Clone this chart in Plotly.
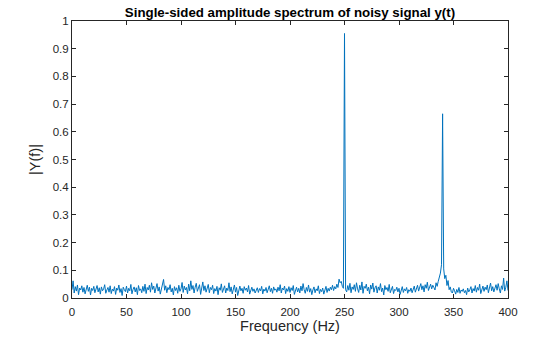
import plotly.graph_objects as go

freq = list(range(401))

amp = [
    0.030,0.062,0.018,0.041,0.025,0.047,0.012,0.036,0.029,0.044,
    0.021,0.038,0.015,0.033,0.046,0.024,0.039,0.011,0.035,0.027,
    0.042,0.019,0.031,0.045,0.022,0.037,0.014,0.040,0.026,0.033,
    0.048,0.017,0.029,0.038,0.021,0.044,0.016,0.032,0.025,0.041,
    0.013,0.036,0.028,0.047,0.020,0.034,0.009,0.039,0.030,0.023,
    0.043,0.018,0.035,0.026,0.049,0.015,0.031,0.040,0.022,0.037,
    0.012,0.045,0.027,0.033,0.019,0.042,0.024,0.050,0.016,0.038,
    0.029,0.046,0.021,0.055,0.031,0.043,0.018,0.036,0.052,0.025,
    0.040,0.014,0.034,0.047,0.067,0.028,0.044,0.019,0.038,0.030,
    0.048,0.022,0.035,0.011,0.041,0.027,0.037,0.017,0.046,0.024,
    0.033,0.056,0.020,0.043,0.029,0.038,0.015,0.050,0.026,0.062,
    0.031,0.045,0.018,0.039,0.053,0.024,0.036,0.048,0.013,0.041,
    0.058,0.027,0.044,0.021,0.035,0.049,0.019,0.038,0.030,0.046,
    0.016,0.034,0.025,0.042,0.012,0.037,0.028,0.051,0.020,0.033,
    0.044,0.018,0.036,0.027,0.055,0.023,0.040,0.015,0.032,0.047,
    0.021,0.038,0.009,0.030,0.043,0.026,0.035,0.017,0.041,0.028,
    0.036,0.022,0.045,0.014,0.031,0.039,0.024,0.033,0.018,0.029,
    0.037,0.020,0.034,0.026,0.042,0.015,0.032,0.025,0.038,0.019,
    0.030,0.044,0.023,0.035,0.017,0.040,0.028,0.033,0.021,0.039,
    0.026,0.048,0.018,0.036,0.029,0.043,0.016,0.034,0.024,0.041,
    0.020,0.037,0.027,0.045,0.013,0.031,0.039,0.022,0.035,0.018,
    0.043,0.026,0.052,0.030,0.017,0.038,0.024,0.047,0.021,0.034,
    0.012,0.029,0.040,0.019,0.033,0.026,0.044,0.016,0.031,0.023,
    0.036,0.014,0.028,0.042,0.020,0.035,0.025,0.039,0.030,0.046,
    0.027,0.041,0.033,0.050,0.038,0.068,0.055,0.060,0.042,0.035,
    0.955,0.030,0.022,0.045,0.028,0.053,0.019,0.040,0.031,0.048,
    0.024,0.055,0.033,0.020,0.046,0.029,0.058,0.017,0.042,0.035,
    0.050,0.026,0.039,0.015,0.047,0.032,0.054,0.021,0.037,0.044,
    0.018,0.040,0.028,0.052,0.023,0.036,0.011,0.045,0.030,0.038,
    0.024,0.049,0.019,0.034,0.042,0.016,0.031,0.027,0.039,0.022,
    0.035,0.013,0.029,0.041,0.020,0.033,0.026,0.038,0.017,0.030,
    0.024,0.036,0.019,0.028,0.043,0.021,0.032,0.046,0.025,0.037,
    0.052,0.030,0.044,0.022,0.048,0.035,0.057,0.027,0.041,0.050,
    0.033,0.046,0.038,0.029,0.055,0.042,0.060,0.071,0.090,0.120,
    0.665,0.105,0.070,0.082,0.045,0.063,0.030,0.040,0.022,0.018,
    0.035,0.026,0.014,0.031,0.020,0.038,0.017,0.029,0.024,0.033,
    0.019,0.027,0.012,0.036,0.022,0.030,0.041,0.018,0.034,0.025,
    0.045,0.021,0.038,0.028,0.050,0.016,0.033,0.043,0.024,0.039,
    0.030,0.047,0.019,0.036,0.054,0.026,0.041,0.022,0.035,0.048,
    0.028,0.052,0.033,0.018,0.044,0.031,0.072,0.025,0.039,0.062,
    0.027,
]

x_ticks = [0, 50, 100, 150, 200, 250, 300, 350, 400]
y_ticks = [0, 0.1, 0.2, 0.3, 0.4, 0.5, 0.6, 0.7, 0.8, 0.9, 1]
y_tick_labels = ["0", "0.1", "0.2", "0.3", "0.4", "0.5", "0.6", "0.7", "0.8", "0.9", "1"]

title_text = "Single-sided amplitude spectrum of noisy signal y(t)"
x_label = "Frequency (Hz)"
y_label = "|Y(f)|"

axis_color = "#262626"
font_family = "Liberation Sans, Arial, sans-serif"

fig = go.Figure()
fig.add_trace(go.Scatter(
    x=freq, y=amp, mode="lines",
    line=dict(color="#0072BD", width=1),
    hoverinfo="skip", showlegend=False,
))

axis_common = dict(
    showline=True, linecolor=axis_color, linewidth=1,
    mirror="ticks", ticks="inside", ticklen=4, tickcolor=axis_color,
    showgrid=False, zeroline=False, automargin=False,
    tickfont=dict(family=font_family, size=11.5, color=axis_color),
)

fig.update_layout(
    width=560, height=337,
    margin=dict(l=72, r=52, t=21, b=39),
    paper_bgcolor="white", plot_bgcolor="white",
    font=dict(family=font_family, color=axis_color),
    title=dict(
        text="<b>" + title_text + "</b>",
        x=0.5, xref="paper", xanchor="center",
        y=1 - 12 / 337, yref="container", yanchor="middle",
        font=dict(family=font_family, size=13.3, color="black"),
    ),
    xaxis=dict(
        range=[0, 400], tickvals=x_ticks, ticklabelstandoff=3,
        title=dict(text=x_label, font=dict(family=font_family, size=14.5, color=axis_color), standoff=3),
        **axis_common,
    ),
    yaxis=dict(
        range=[0, 1], tickvals=y_ticks, ticktext=y_tick_labels,
        title=dict(text=y_label, font=dict(family=font_family, size=14.5, color=axis_color), standoff=8),
        **axis_common,
    ),
)

fig.write_html("out.html")
